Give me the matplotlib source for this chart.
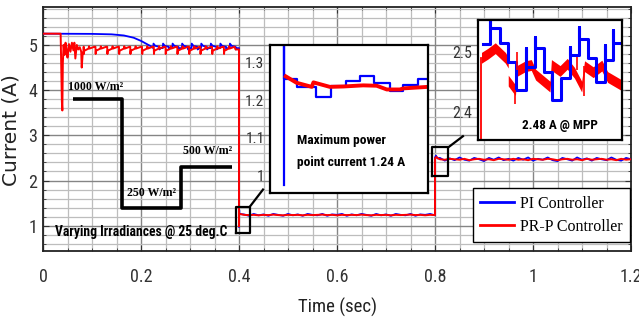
import numpy as np
import matplotlib
matplotlib.use('Agg')
import matplotlib.pyplot as plt
from matplotlib.ticker import MultipleLocator
from matplotlib.lines import Line2D

NARROW = ['Roboto Condensed', 'Archivo Narrow', 'DejaVu Sans']
NARROW_B = ['Roboto Condensed', 'PT Sans Narrow', 'Barlow Semi Condensed', 'Archivo Narrow']
SERIF = ['Liberation Serif', 'DejaVu Serif']

# ------------------------------------------------------------------ data
# Segment 1 (0 - 0.4 s, 1000 W/m2) -- PI controller
pi_start_t = [0.0, 0.10, 0.14, 0.165, 0.185, 0.200, 0.212, 0.222]
pi_start_v = [5.25, 5.245, 5.235, 5.21, 5.16, 5.09, 5.02, 4.96]
pi_tooth_starts = [0.225, 0.2445, 0.264, 0.2835, 0.303, 0.3225, 0.342, 0.3615, 0.381]
pi_tooth_off = [0.0, 0.0005, 0.004, 0.012, 0.0125, 0.015]
pi_tooth_val = [4.93, 5.03, 4.98, 4.96, 4.90, 4.93]
pi_step1_t = [0.4, 0.4, 0.4004, 0.4008]
pi_step1_v = [4.93, 0.97, 1.345, 1.258]

# Segment 1 -- PR-P controller
prp_start_t = [0.0, 0.036, 0.0385, 0.0395, 0.0405, 0.042, 0.044, 0.046, 0.048, 0.050,
               0.053, 0.056, 0.059, 0.062, 0.064, 0.066, 0.069, 0.072, 0.075, 0.078,
               0.079, 0.081, 0.083]
prp_start_v = [5.25, 5.25, 3.75, 3.55, 4.6, 5.0, 4.78, 5.05, 4.9, 4.72,
               5.02, 4.85, 5.05, 4.88, 5.05, 4.7, 5.0, 4.9, 4.95, 4.85,
               4.5, 4.8, 4.87]
prp_tooth_starts = [0.083, 0.107, 0.131, 0.155, 0.178, 0.202, 0.226, 0.250,
                    0.274, 0.298, 0.321, 0.345, 0.369]
prp_tooth_off = [0.0, 0.0005, 0.001, 0.010, 0.011, 0.012, 0.022]
prp_tooth_val = [4.96, 4.80, 4.87, 4.92, 4.97, 4.92, 4.96]
prp_step1_t = [0.393, 0.4, 0.4, 0.4003]
prp_step1_v = [4.90, 4.90, 0.985, 1.264]

# Segment 2 (0.4 - 0.8 s, 250 W/m2), samples every 0.01 s from 0.41 s
seg2_t0, seg2_dt = 0.41, 0.01
pi_seg2 = [1.25, 1.22, 1.26, 1.23, 1.25, 1.22, 1.26, 1.24, 1.22, 1.26,
           1.23, 1.25, 1.22, 1.26, 1.24, 1.23, 1.26, 1.22, 1.25, 1.24,
           1.26, 1.22, 1.25, 1.23, 1.26, 1.24, 1.22, 1.26, 1.23, 1.25,
           1.22, 1.26, 1.24, 1.23, 1.26, 1.22, 1.25, 1.24, 1.26, 1.23]
prp_seg2 = [1.24, 1.235, 1.24, 1.23, 1.24, 1.235, 1.245, 1.235, 1.23, 1.24,
            1.235, 1.24, 1.23, 1.24, 1.235, 1.24, 1.245, 1.235, 1.24, 1.23,
            1.24, 1.235, 1.24, 1.235, 1.245, 1.235, 1.23, 1.24, 1.235, 1.24,
            1.23, 1.24, 1.235, 1.24, 1.245, 1.235, 1.24, 1.23, 1.24, 1.235]
pi_step2_t = [0.8, 0.8, 0.802, 0.805]
pi_step2_v = [1.23, 2.51, 2.55, 2.49]
prp_step2_t = [0.8, 0.8, 0.803, 0.806]
prp_step2_v = [1.235, 2.49, 2.52, 2.49]

# Segment 3 (0.8 - 1.2 s, 500 W/m2), samples every 0.01 s from 0.81 s
seg3_t0, seg3_dt = 0.81, 0.01
pi_seg3 = [2.50, 2.44, 2.49, 2.45, 2.51, 2.46, 2.44, 2.50, 2.47, 2.43,
           2.50, 2.46, 2.51, 2.45, 2.48, 2.44, 2.50, 2.46, 2.51, 2.44,
           2.48, 2.46, 2.51, 2.45, 2.43, 2.50, 2.47, 2.44, 2.51, 2.46,
           2.49, 2.44, 2.50, 2.47, 2.45, 2.51, 2.46, 2.44, 2.50, 2.47]
prp_seg3 = [2.47, 2.46, 2.48, 2.47, 2.46, 2.48, 2.45, 2.47, 2.48, 2.46,
            2.47, 2.45, 2.48, 2.47, 2.46, 2.48, 2.46, 2.47, 2.45, 2.48,
            2.47, 2.46, 2.48, 2.47, 2.45, 2.47, 2.48, 2.46, 2.47, 2.45,
            2.48, 2.46, 2.47, 2.48, 2.46, 2.47, 2.45, 2.48, 2.46, 2.47]

# Irradiance profile (schematic step line)
irr_t = [0.061, 0.161, 0.161, 0.2816, 0.2816, 0.385]
irr_v = [3.80, 3.80, 1.40, 1.40, 2.30, 2.30]
irr_labels = ['1000 W/m²', '250 W/m²', '500 W/m²']
irr_label_t = [0.0517, 0.171, 0.286]
irr_label_v = [4.01, 1.65, 2.58]

# Inset 1 (around t = 0.4 s)
in1_pi_t = [0.4000, 0.4000, 0.4000, 0.4022, 0.4022, 0.4057, 0.4057, 0.4083, 0.4083,
            0.4110, 0.4110, 0.4134, 0.4134, 0.4160, 0.4160, 0.4187, 0.4187, 0.4210,
            0.4210, 0.4237, 0.4237, 0.4255]
in1_pi_v = [0.973, 1.345, 1.258, 1.258, 1.236, 1.236, 1.210, 1.210, 1.237,
            1.237, 1.251, 1.251, 1.264, 1.264, 1.246, 1.246, 1.226, 1.226,
            1.242, 1.242, 1.257, 1.257]
in1_prp_t = [0.4003, 0.4022, 0.4049, 0.4052, 0.4081, 0.4105, 0.4140, 0.4164,
             0.4182, 0.4205, 0.4212, 0.4255]
in1_prp_v = [1.264, 1.247, 1.236, 1.248, 1.236, 1.237, 1.240, 1.239,
             1.229, 1.229, 1.232, 1.236]

# Inset 2 (around t = 0.8 s)
in2_pi_t = [0.80035, 0.80203, 0.80203, 0.80203, 0.80416, 0.80416, 0.80607, 0.80607,
            0.80798, 0.80798, 0.81012, 0.81012, 0.81012, 0.81219, 0.81219, 0.81219,
            0.81425, 0.81425, 0.81623, 0.81623, 0.81831, 0.81831, 0.82036, 0.82036,
            0.82036, 0.82234, 0.82234, 0.82234, 0.82441, 0.82441, 0.82633, 0.82633,
            0.82824, 0.82824, 0.82824, 0.83014, 0.83014, 0.83014, 0.8322]
in2_pi_v = [2.513, 2.513, 2.553, 2.539, 2.539, 2.515, 2.515, 2.483,
            2.483, 2.437, 2.437, 2.506, 2.475, 2.475, 2.525, 2.506,
            2.506, 2.467, 2.467, 2.419, 2.419, 2.456, 2.456, 2.508,
            2.494, 2.494, 2.541, 2.522, 2.522, 2.489, 2.489, 2.450,
            2.450, 2.511, 2.486, 2.486, 2.536, 2.515, 2.515]
in2_prp_t = [0.8000, 0.8000, 0.80151, 0.80316, 0.80547, 0.80613, 0.80613, 0.80778,
             0.80811, 0.81009, 0.81141, 0.8124, 0.8157, 0.81603, 0.81801, 0.81966,
             0.82131, 0.82296, 0.82362, 0.8256, 0.82758, 0.8289, 0.8322]
in2_prp_v = [2.30, 2.490, 2.497, 2.506, 2.490, 2.482, 2.452, 2.436,
             2.468, 2.476, 2.478, 2.462, 2.442, 2.478, 2.468, 2.480,
             2.465, 2.442, 2.476, 2.466, 2.477, 2.458, 2.444]
in2_prp_band = 0.009
in2_prp_spike_t = [0.80778, 0.80811, 0.8236, 0.8218]
in2_prp_spike_lo = [2.413, 2.470, 2.426, 2.470]
in2_prp_spike_hi = [2.436, 2.500, 2.476, 2.492]

# --------------------------------------------------------------- build series
def teeth(starts, off, val):
    tt, vv = [], []
    for s in starts:
        tt += [s + o for o in off]
        vv += list(val)
    return tt, vv

a_t, a_v = teeth(pi_tooth_starts, pi_tooth_off, pi_tooth_val)
pi_t = pi_start_t + a_t + pi_step1_t
pi_v = pi_start_v + a_v + pi_step1_v
pi_t += [seg2_t0 + i * seg2_dt for i in range(len(pi_seg2))] + pi_step2_t
pi_v += pi_seg2 + pi_step2_v
pi_t += [seg3_t0 + i * seg3_dt for i in range(len(pi_seg3))]
pi_v += pi_seg3

b_t, b_v = teeth(prp_tooth_starts, prp_tooth_off, prp_tooth_val)
prp_t = prp_start_t + b_t + prp_step1_t
prp_v = prp_start_v + b_v + prp_step1_v
prp_t += [seg2_t0 + i * seg2_dt for i in range(len(prp_seg2))] + prp_step2_t
prp_v += prp_seg2 + prp_step2_v
prp_t += [seg3_t0 + i * seg3_dt for i in range(len(prp_seg3))]
prp_v += prp_seg3

BLUE = '#0000ff'
RED = '#ff0000'

# ------------------------------------------------------------------- figure
W, H = 639, 323
fig = plt.figure(figsize=(W / 100, H / 100), dpi=100)
fig.patch.set_facecolor('white')

def fx(px):
    return px / W

def fy(py):
    return 1 - py / H

ax = fig.add_axes([fx(43), fy(251), fx(631) - fx(43), fy(7) - fy(251)])
ax.set_xlim(0, 1.2)
ax.set_ylim(0.44, 5.84)
ax.set_xticks([0, 0.2, 0.4, 0.6, 0.8, 1.0, 1.2])
ax.set_xticklabels(['0', '0.2', '0.4', '0.6', '0.8', '1', '1.2'])
ax.set_yticks([1, 2, 3, 4, 5])
ax.xaxis.set_minor_locator(MultipleLocator(0.05))
ax.yaxis.set_minor_locator(MultipleLocator(0.2))
ax.grid(True, which='major', color='#858585', lw=1.0)
ax.grid(True, which='minor', color='#bdbdbd', lw=0.9)
ax.set_axisbelow(True)
ax.tick_params(which='both', direction='in', top=True, right=True, color='#333333')
ax.tick_params(which='major', length=4)
ax.tick_params(which='minor', length=2)
ax.tick_params(axis='x', which='major', pad=12, labelsize=13)
ax.tick_params(axis='y', which='major', pad=4, labelsize=13)
for lab in ax.get_xticklabels() + ax.get_yticklabels():
    lab.set_family(NARROW)
    lab.set_color('#333333')
for s in ax.spines.values():
    s.set_linewidth(1.3)
    s.set_color('#222222')

ax.plot(pi_t, pi_v, color=BLUE, lw=1.3, zorder=3)
ax.plot(prp_t, prp_v, color=RED, lw=1.4, zorder=4)

ax.set_xlabel('Time (sec)', family=NARROW, fontsize=13.5, color='#222222')
ax.xaxis.set_label_coords(0.5, (251 - 298) / 244)
ax.set_ylabel('Current (A)', family=['DejaVu Sans'], fontsize=14.5, color='#222222')
ax.yaxis.set_label_coords((21 - 43) / 588, (251 - 130) / 244)

# irradiance profile
ax.plot(irr_t, irr_v, color='black', lw=2.6, zorder=5, solid_capstyle='butt')
for lab, t, v in zip(irr_labels, irr_label_t, irr_label_v):
    ax.text(t, v, lab, family=SERIF, fontsize=8.6, fontweight='bold', ha='left',
            va='baseline', zorder=6)
ax.text(0.0245, 0.87, 'Varying Irradiances @ 25 deg.C', family=NARROW_B, fontsize=9.8,
        fontweight='bold', ha='left', va='center', zorder=6)

# zoom rectangles & connectors
ax.plot([0.394, 0.422, 0.422, 0.394, 0.394], [0.844, 0.844, 1.42, 1.42, 0.844],
        color='black', lw=1.6, zorder=6)
ax.plot([0.422, 0.449], [1.42, 1.80], color='black', lw=1.6, zorder=6, clip_on=False)
ax.plot([0.794, 0.827, 0.827, 0.794, 0.794], [2.089, 2.089, 2.733, 2.733, 2.089],
        color='black', lw=1.6, zorder=6)
ax.plot([0.827, 0.857], [2.733, 2.98], color='black', lw=1.6, zorder=6, clip_on=False)

# legend
handles = [Line2D([], [], color=BLUE, lw=2), Line2D([], [], color=RED, lw=2)]
leg = fig.legend(handles, ['PI Controller', 'PR-P Controller'], loc='lower right',
                 bbox_to_anchor=(fx(630), fy(242)), borderaxespad=0,
                 prop={'family': SERIF, 'size': 11.5}, fancybox=False,
                 edgecolor='black', framealpha=1, handlelength=2.1,
                 labelspacing=0.45, borderpad=0.45, handletextpad=0.4)
leg.get_frame().set_linewidth(1.0)
leg.set_zorder(10)

# inset 1
ax1 = fig.add_axes([fx(270), fy(193), fx(428) - fx(270), fy(45) - fy(193)])
ax1.set_xlim(0.3975, 0.4255)
ax1.set_ylim(0.952, 1.348)
ax1.set_xticks([])
ax1.set_yticks([1.0, 1.1, 1.2, 1.3])
ax1.set_yticklabels(['1', '1.1', '1.2', '1.3'])
ax1.tick_params(axis='y', length=0, pad=4, labelsize=11)
for lab in ax1.get_yticklabels():
    lab.set_family(NARROW)
    lab.set_color('#333333')
for s in ax1.spines.values():
    s.set_linewidth(1.6)
ax1.plot(in1_pi_t, in1_pi_v, color=BLUE, lw=1.6)
ax1.plot(in1_prp_t, in1_prp_v, color=RED, lw=2.8)
ax1.text(0.171, 0.358, 'Maximum power', transform=ax1.transAxes, family=NARROW_B,
         fontsize=9.7, fontweight='bold', ha='left', va='center')
ax1.text(0.171, 0.203, 'point current 1.24 A', transform=ax1.transAxes, family=NARROW_B,
         fontsize=9.7, fontweight='bold', ha='left', va='center')

# inset 2
ax2 = fig.add_axes([fx(478), fy(140), fx(622) - fx(478), fy(20) - fy(140)])
ax2.set_xlim(0.7992, 0.8322)
ax2.set_ylim(2.353, 2.553)
ax2.set_xticks([])
ax2.set_yticks([2.4, 2.5])
ax2.tick_params(axis='y', length=0, pad=4, labelsize=11.5)
for lab in ax2.get_yticklabels():
    lab.set_family(NARROW)
    lab.set_color('#333333')
for s in ax2.spines.values():
    s.set_linewidth(1.6)
ax2.plot(in2_pi_t, in2_pi_v, color=BLUE, lw=2.2)
pt = np.array(in2_prp_t)
pv = np.array(in2_prp_v)
ax2.plot(pt[:2], pv[:2], color=RED, lw=1.3)
ax2.fill_between(pt[1:], pv[1:] - in2_prp_band, pv[1:] + in2_prp_band, color=RED, lw=0)
ax2.vlines(in2_prp_spike_t, in2_prp_spike_lo, in2_prp_spike_hi, color=RED, lw=1.2)
ax2.text(0.566, 0.125, '2.48 A @ MPP', transform=ax2.transAxes, family=NARROW_B,
         fontsize=9.5, fontweight='bold', ha='center', va='center')

fig.savefig('out.png', dpi=100)
